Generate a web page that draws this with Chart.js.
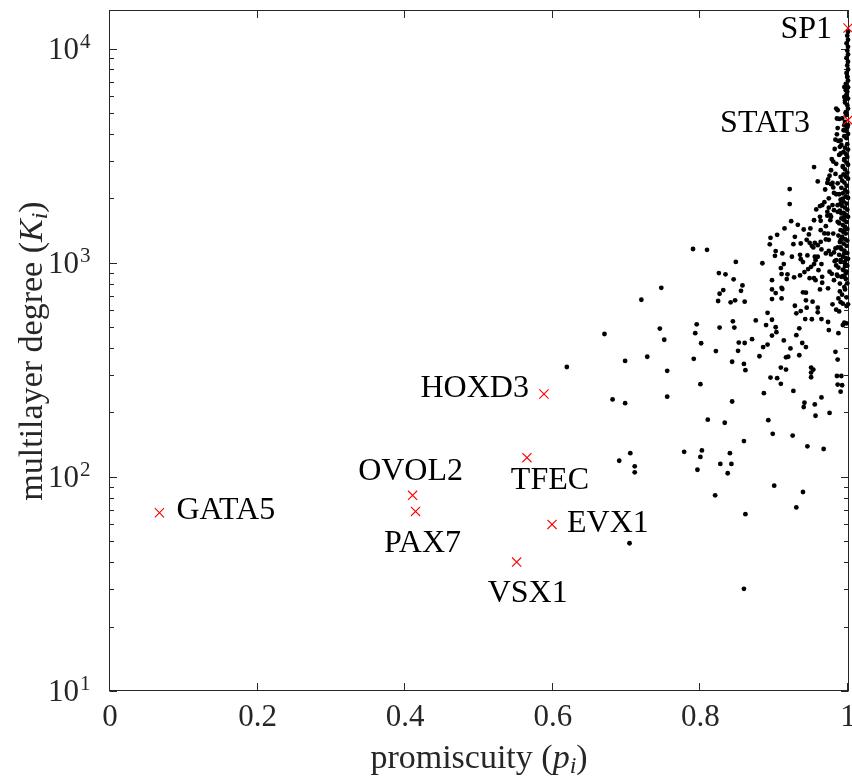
<!DOCTYPE html>
<html>
<head>
<meta charset="utf-8">
<script src="https://cdn.jsdelivr.net/npm/chart.js@4"></script>
<style>
  html, body { margin: 0; padding: 0; background: #fff; }
</style>
</head>
<body>
<canvas id="scatter" width="852" height="778"></canvas>
<script>
// promiscuity p_i and multilayer degree K_i
// sparse part of the cloud
var sparseP = [0.790,0.809,0.848,0.884,0.825,0.834,0.845,0.831,0.826,0.857,
  0.855,0.747,0.720,0.824,0.841,0.847,0.860,0.670,0.745,0.751,
  0.795,0.793,0.801,0.826,0.844,0.846,0.852,0.860,0.870,0.821,
  0.851,0.791,0.843,0.859,0.861,0.698,0.728,0.755,0.800,0.681,
  0.698,0.755,0.843,0.810,0.833,0.859,0.690,0.705,0.711,0.711,
  0.778,0.802,0.800,0.796,0.827,0.840,0.842,0.837,0.820,0.861,
  0.900,0.939,0.930,0.892,0.898,0.925,0.945,0.967,0.886,0.926,
  0.941,0.940,0.955,0.956,0.975,0.964,0.895,0.904,0.909,0.909,
  0.916,0.950,0.953,0.950,0.950,0.880,0.885,0.891,0.897,0.903,
  0.902,0.889,0.891,0.897,0.875,0.913,0.916,0.919,0.922,0.934,
  0.930,0.934,0.938,0.943,0.983,0.986,0.985,0.991,0.990,0.987,
  0.993,0.995,0.974,0.964,0.959,0.959,0.951,0.942,0.930,0.936,
  0.928,0.944,0.943,0.939,0.943,0.952,0.979,0.984,0.988,0.993,
  0.989,0.998,0.998,0.897,0.902,0.911,0.910,0.897,0.917,0.927,
  0.935,0.941,0.946,0.954,0.965,0.962,0.975,0.978,0.984,0.996,
  0.999,0.993,0.918,0.909,0.913,0.901,0.902,0.911,0.924,0.935,
  0.936,0.945,0.951,0.955,0.964,0.970,0.977,0.981,0.990,1.000,
  0.997,0.926,0.894,0.936,0.953,0.619,0.704,0.859,0.986,0.992,
  0.987,0.996,1.000,0.973];
var sparseK = [1160,1150,1010,995,895,883,837,746,717,784,
  740,764,672,663,654,668,658,465,493,437,
  516,469,421,498,533,498,424,422,440,387,
  388,356,345,337,315,348,364,313,271,230,
  221,237,225,185,179,147,119,129,112,105,
  131,133,124,108,115,129,115,104,82,67,
  91,85,72,184,159,156,139,135,246,252,
  222,212,218,193,199,235,291,289,272,324,
  317,324,317,307,292,366,404,415,457,474,
  500,512,584,542,538,434,362,364,398,370,
  459,494,422,404,384,353,296,296,250,469,
  512,525,485,546,587,617,545,546,581,595,
  630,617,668,728,725,658,640,604,593,644,
  735,628,521,677,722,754,682,830,839,855,
  873,905,935,848,807,751,908,888,972,965,
  802,867,883,945,986,1078,1134,1106,1067,1090,
  1040,1083,1200,1067,986,1106,1094,1118,1180,1044,
  892,1222,1220,1231,1180,326,49,30,270,268,
  682,751,640,529];

// dense wedge near p = 1
var coreP = [0.921,0.923,0.932,0.940,0.947,0.957,0.914,0.904,0.895,0.928,
  0.968,0.973,0.970,0.976,0.963,0.963,0.976,0.972,0.981,0.968,
  0.986,0.991,0.986,0.980,0.995,0.970,0.985,0.987,0.989,0.988,
  0.980,0.954,0.977,0.993,0.990,0.921,0.972,0.977,0.986,0.981,
  0.988,0.974,0.965,0.979,0.990,0.972,0.986,0.977,0.995,0.993,
  0.995,0.984,0.986,0.985,0.988,0.992,0.986,0.990,0.997,0.999,
  0.995,0.983,0.979,0.984,0.962,0.974,0.962,0.954,0.949,0.944,
  0.955,0.974,0.983,0.990,0.995,0.950,0.956,0.959,0.990,0.994,
  0.995,0.996,0.997,0.995,
  0.939,0.948,0.959,0.964,0.963,0.974,0.959,0.954,0.960,0.982,
  0.990,0.996,0.986,0.994,0.995,0.910,0.948,0.965,0.956,0.981,
  0.973,0.897,0.910,0.982,0.978,0.984,0.975,0.983,0.991,0.969,
  0.980,0.973];
var coreK = [1880,1565,1505,1431,1357,1775,1447,1351,1308,1322,
  1371,1370,1483,1582,1570,1421,1670,1660,1762,1919,
  1858,1700,1553,1370,1421,1286,3980,3710,3480,3190,
  2970,2800,2705,2800,2518,2210,2361,2330,2350,2121,
  2090,2000,1858,1860,1890,1730,1730,1640,1640,1995,
  3010,5250,5160,4720,4700,4730,4260,3730,6390,7370,
  5950,3760,2360,2090,1840,1810,1640,1580,1447,1280,
  1240,1280,1167,1276,1106,958,1029,2400,3240,4160,
  6620,5740,4990,4390,
  1008,1240,1209,1155,1253,1137,1067,986,924,1018,
  1029,1011,867,924,860,886,848,860,830,830,
  760,751,764,3400,3050,2900,2550,2600,3550,2200,
  2250,2450];

// the solid column along p = 1
var edgeP = [1.000,0.999,1.000,0.998,1.000,0.999,1.000,0.998,1.000,0.999,
  1.000,0.998,0.999,1.000,0.997,1.000,0.999,0.998,1.000,0.996,
  0.999,1.000,0.997,0.998,1.000,0.996,0.999,0.997,1.000,0.995,
  0.998,0.999,0.996,1.000,0.994,0.997,0.999,0.995,0.998,1.000,
  0.993,0.996,0.999,0.994,0.997,1.000,0.992,0.995,0.998,0.991,
  0.996,0.999,0.993,0.997,1.000,0.990,0.994,0.998,0.992,0.996,
  0.999,0.989,0.994,0.997,1.000,0.991,0.995,0.998,0.988,0.993,
  0.996,0.999,0.990,0.994,0.997,0.987,0.992,0.996,0.999,0.989,
  0.994,0.998,0.986,0.991,0.995,0.999,0.988,0.993,0.997,0.984,
  0.990,0.996,0.999,0.987,0.993,0.998,0.985,0.991,0.997,0.989,
  0.995,0.992,0.998,0.990];
var edgeK = [12000,11500,11000,10600,10200,9800,9400,9050,8700,8350,
  8000,7700,7400,7100,6850,6600,6300,6100,5850,5600,
  5450,5250,5050,4900,4400,4550,4300,4150,4000,3900,
  3820,3580,3450,3380,3300,3230,3120,3050,2940,2870,
  2830,2730,2640,2590,2530,2470,2420,2370,2290,2240,
  2190,2140,2110,2040,2010,1970,1930,1890,1840,1810,
  1770,1750,1710,1680,1640,1610,1580,1550,1530,1500,
  1470,1440,1420,1390,1370,1340,1320,1290,1270,1250,
  1230,1200,1180,1160,1140,1110,1090,1070,1050,1030,
  1010,990,970,950,930,910,880,860,840,800,
  770,710,690,655];

// highlighted transcription factors
var markNames = ['SP1', 'STAT3', 'HOXD3', 'TFEC', 'OVOL2', 'PAX7', 'GATA5', 'EVX1', 'VSX1'];
var markP = [1.0, 1.0, 0.588, 0.565, 0.410, 0.414, 0.067, 0.599, 0.551];
var markK = [12500, 4640, 244, 123, 82, 69, 68, 60, 40];

var xTicks = [0, 0.2, 0.4, 0.6, 0.8, 1];
var xTickText = ['0', '0.2', '0.4', '0.6', '0.8', '1'];
var yTicks = [10, 100, 1000, 10000];
var yTickExp = ['1', '2', '3', '4'];

// where each name sits relative to its marker: dx, dy (px), alignment
var labelPlace = {
  SP1: [-16, 0, 'right'],
  STAT3: [-38, 1, 'right'],
  HOXD3: [-15, -7, 'right'],
  TFEC: [23, 21, 'center'],
  OVOL2: [-2, -26, 'center'],
  PAX7: [7, 30, 'center'],
  GATA5: [17, -4, 'left'],
  EVX1: [15, -3, 'left'],
  VSX1: [11, 29, 'center']
};

var ink = '#262626';
var serif = '"Liberation Serif", "Times New Roman", serif';

function pairs(px, ky) {
  var out = [];
  for (var i = 0; i < px.length; i++) out.push({ x: px[i], y: ky[i] });
  return out;
}

var cloud = pairs(sparseP, sparseK).concat(pairs(coreP, coreK), pairs(edgeP, edgeK));
var marks = pairs(markP, markK);

// draws mixed roman / italic / subscript pieces centred on 0
function drawRuns(ctx, runs) {
  var w = 0;
  runs.forEach(function(r) { ctx.font = r.f; r.w = ctx.measureText(r.t).width; w += r.w; });
  var x = -w / 2;
  runs.forEach(function(r) {
    ctx.font = r.f;
    ctx.fillText(r.t, x, r.dy);
    x += r.w;
  });
}

var axesPlugin = {
  id: 'matlabAxes',
  beforeDatasetsDraw: function(chart) {
    var ctx = chart.ctx, a = chart.chartArea;
    var xs = chart.scales.x, ys = chart.scales.y;
    var L = a.left - 0.5, R = a.right + 0.5, T = a.top - 0.5, B = a.bottom - 0.5;
    ctx.save();
    ctx.strokeStyle = ink;
    ctx.lineWidth = 1;
    ctx.strokeRect(L, T, R - L, B - T);
    ctx.beginPath();
    xTicks.forEach(function(v) {
      var px = Math.round(xs.getPixelForValue(v)) - 0.5;
      ctx.moveTo(px, B); ctx.lineTo(px, B - 7.5);
      ctx.moveTo(px, T); ctx.lineTo(px, T + 7.5);
    });
    for (var d = 10; d <= 10000; d *= 10) {
      for (var m = 1; m <= 9; m++) {
        var v = d * m;
        if (v < ys.min || v > ys.max) continue;
        var len = m === 1 ? 7.5 : 4.5;
        var py = Math.round(ys.getPixelForValue(v)) + 0.5;
        ctx.moveTo(L, py); ctx.lineTo(L + len, py);
        ctx.moveTo(R, py); ctx.lineTo(R - len, py);
      }
    }
    ctx.stroke();
    ctx.restore();
  },
  afterDatasetsDraw: function(chart) {
    var ctx = chart.ctx, xs = chart.scales.x, ys = chart.scales.y;
    ctx.save();
    ctx.fillStyle = '#000';
    ctx.font = '32px ' + serif;
    ctx.textBaseline = 'alphabetic';
    markNames.forEach(function(name, i) {
      var p = labelPlace[name];
      ctx.textAlign = p[2];
      ctx.fillText(name, xs.getPixelForValue(markP[i]) + p[0], ys.getPixelForValue(markK[i]) + p[1] + 10.5);
    });
    ctx.restore();
  },
  afterDraw: function(chart) {
    var ctx = chart.ctx, a = chart.chartArea, ys = chart.scales.y;
    ctx.save();
    ctx.fillStyle = ink;
    ctx.textBaseline = 'alphabetic';
    // y tick labels 10^n
    yTicks.forEach(function(v, i) {
      var py = ys.getPixelForValue(v);
      ctx.textAlign = 'right';
      ctx.font = '31px ' + serif;
      ctx.fillText('10', 79, py + 10);
      ctx.textAlign = 'left';
      ctx.font = '21px ' + serif;
      ctx.fillText(yTickExp[i], 80, py - 1);
    });
    ctx.textAlign = 'left';
    // x title
    ctx.save();
    ctx.translate((a.left + a.right) / 2, 768);
    drawRuns(ctx, [
      { t: 'promiscuity (', f: '34px ' + serif, dy: 0 },
      { t: 'p', f: 'italic 34px ' + serif, dy: 0 },
      { t: 'i', f: 'italic 24px ' + serif, dy: 5 },
      { t: ')', f: '34px ' + serif, dy: 0 }
    ]);
    ctx.restore();
    // y title
    ctx.save();
    ctx.translate(42, (a.top + a.bottom) / 2);
    ctx.rotate(-Math.PI / 2);
    drawRuns(ctx, [
      { t: 'multilayer degree (', f: '34px ' + serif, dy: 0 },
      { t: 'K', f: 'italic 34px ' + serif, dy: 0 },
      { t: 'i', f: 'italic 24px ' + serif, dy: 5 },
      { t: ')', f: '34px ' + serif, dy: 0 }
    ]);
    ctx.restore();
    ctx.restore();
  }
};

var chart = new Chart(document.getElementById('scatter').getContext('2d'), {
  type: 'scatter',
  data: {
    datasets: [{
      label: 'highlighted',
      data: marks,
      pointStyle: 'crossRot',
      pointRadius: 6.5,
      borderColor: '#ff0000',
      borderWidth: 1.1,
      backgroundColor: '#ff0000',
      clip: false
    }, {
      label: 'TFs',
      data: cloud,
      pointRadius: 2.4,
      borderWidth: 0,
      backgroundColor: '#000000',
      clip: false
    }]
  },
  options: {
    responsive: false,
    animation: false,
    devicePixelRatio: 1,
    events: [],
    layout: { padding: { left: 0, right: 4, top: 11, bottom: 0 }, autoPadding: false },
    plugins: { legend: { display: false }, tooltip: { enabled: false } },
    scales: {
      x: {
        type: 'linear',
        min: 0,
        max: 1,
        grid: { display: false, drawTicks: false },
        border: { display: false },
        afterBuildTicks: function(scale) {
          scale.ticks = xTicks.map(function(v) { return { value: v }; });
        },
        afterFit: function(scale) {
          scale.height = 87;
          scale.paddingLeft = 0;
          scale.paddingRight = 0;
        },
        ticks: {
          color: ink,
          padding: 8,
          maxRotation: 0,
          autoSkip: false,
          font: { family: serif, size: 31 },
          callback: function(value) { return xTickText[xTicks.indexOf(value)]; }
        }
      },
      y: {
        type: 'logarithmic',
        min: 10,
        max: 15000,
        grid: { display: false, drawTicks: false },
        border: { display: false },
        ticks: { display: false },
        afterFit: function(scale) {
          scale.width = 110;
          scale.paddingTop = 0;
          scale.paddingBottom = 0;
        }
      }
    }
  },
  plugins: [axesPlugin]
});
</script>
</body>
</html>
